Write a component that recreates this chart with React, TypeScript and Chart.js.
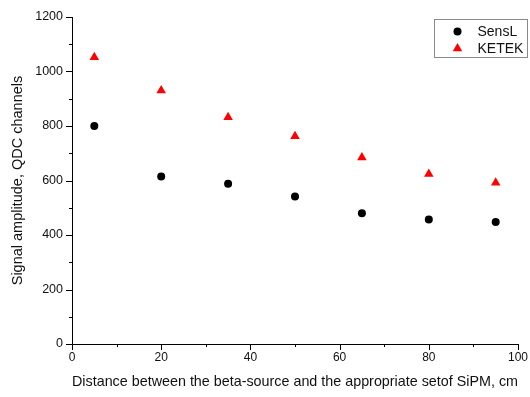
import React, { useEffect, useRef } from 'react';
import { Chart, registerables } from 'chart.js';

Chart.register(...registerables);

const distances = [5, 20, 35, 50, 65, 80, 95];
const sensL = [800, 615, 588, 541, 480, 457, 448];
const ketek = [1052, 930, 832, 762, 684, 624, 592];
const seriesNames = ['SensL', 'KETEK'];
const seriesColors = ['#000000', '#ff0000'];
const seriesStyles = ['circle', 'triangle'];
const xTickValues = [0, 20, 40, 60, 80, 100];
const yTickValues = [0, 200, 400, 600, 800, 1000, 1200];
const xMinorStep = 10;
const yMinorStep = 100;
const xTitle = 'Distance between the beta-source and the appropriate setof SiPM, cm';
const yTitle = 'Signal amplitude, QDC channels';

const FONT = "'Liberation Sans', Arial, sans-serif";

const tickMarks = {
  id: 'tickMarks',
  afterDraw(chart: any) {
    const ctx = chart.ctx;
    const xs = chart.scales.x;
    const ys = chart.scales.y;
    const area = chart.chartArea;
    ctx.save();
    ctx.strokeStyle = '#000';
    ctx.lineWidth = 1;
    ctx.beginPath();
    for (let v = xs.min; v <= xs.max + 1e-9; v += xMinorStep) {
      const px = Math.round(xs.getPixelForValue(v)) + 0.5;
      const len = xTickValues.includes(v) ? 6 : 3;
      ctx.moveTo(px, area.bottom);
      ctx.lineTo(px, area.bottom + len);
    }
    for (let v = ys.min; v <= ys.max + 1e-9; v += yMinorStep) {
      const py = Math.round(ys.getPixelForValue(v)) + 0.5;
      const len = yTickValues.includes(v) ? 6 : 3;
      ctx.moveTo(area.left, py);
      ctx.lineTo(area.left - len, py);
    }
    ctx.stroke();
    ctx.restore();
  },
};

function drawSymbol(ctx: CanvasRenderingContext2D, style: string, x: number, y: number, color: string) {
  ctx.fillStyle = color;
  ctx.beginPath();
  if (style === 'circle') {
    ctx.arc(x, y, 4, 0, Math.PI * 2);
  } else {
    const r = 5.5;
    let rad = 0;
    ctx.moveTo(x + Math.sin(rad) * r, y - Math.cos(rad) * r);
    rad += (2 * Math.PI) / 3;
    ctx.lineTo(x + Math.sin(rad) * r, y - Math.cos(rad) * r);
    rad += (2 * Math.PI) / 3;
    ctx.lineTo(x + Math.sin(rad) * r, y - Math.cos(rad) * r);
    ctx.closePath();
  }
  ctx.fill();
}

const legendBox = {
  id: 'legendBox',
  afterDraw(chart: any) {
    const ctx = chart.ctx as CanvasRenderingContext2D;
    const area = chart.chartArea;
    const left = Math.round(area.right - 84) + 0.5;
    const top = Math.round(area.top + 2) + 0.5;
    const w = 93;
    const h = 38;
    ctx.save();
    ctx.fillStyle = '#fff';
    ctx.fillRect(left, top, w, h);
    ctx.strokeStyle = '#8a8a8a';
    ctx.lineWidth = 1;
    ctx.strokeRect(left, top, w, h);
    ctx.font = `14px ${FONT}`;
    ctx.textBaseline = 'middle';
    ctx.textAlign = 'left';
    chart.data.datasets.forEach((ds: any, i: number) => {
      const cy = top + 12 + i * 17;
      drawSymbol(ctx, seriesStyles[i], left + 23, cy, seriesColors[i]);
      ctx.fillStyle = '#111';
      ctx.fillText(ds.label, left + 43, cy + 1);
    });
    ctx.restore();
  },
};

export default function App() {
  const ref = useRef<HTMLCanvasElement | null>(null);

  useEffect(() => {
    if (!ref.current) return;
    Chart.defaults.font.family = FONT;
    const seriesData = [sensL, ketek];
    const chart = new Chart(ref.current, {
      type: 'scatter',
      data: {
        datasets: seriesData.map((vals, i) => ({
          label: seriesNames[i],
          data: distances.map((d, j) => ({ x: d, y: vals[j] })),
          pointStyle: seriesStyles[i] as any,
          pointRadius: i === 0 ? 4 : 5.5,
          pointHoverRadius: i === 0 ? 4 : 5.5,
          backgroundColor: seriesColors[i],
          borderColor: seriesColors[i],
          borderWidth: 0,
          showLine: false,
        })),
      },
      options: {
        responsive: false,
        animation: false,
        layout: { padding: { left: 0, right: 12, top: 17, bottom: 0 } },
        plugins: {
          legend: { display: false },
          tooltip: { enabled: false },
        },
        scales: {
          x: {
            type: 'linear',
            min: 0,
            max: 100,
            afterBuildTicks: (scale: any) => {
              scale.ticks = xTickValues.map((v) => ({ value: v }));
            },
            afterFit: (scale: any) => {
              scale.height = 53;
              scale.paddingRight = 0;
              scale.paddingLeft = 0;
            },
            grid: { display: false, drawTicks: false },
            border: { display: true, color: '#000', width: 1 },
            ticks: {
              padding: 6,
              color: '#111',
              font: { size: 12, family: FONT },
              maxRotation: 0,
              autoSkip: false,
              callback: (v: any) => String(v),
            },
            title: {
              display: true,
              text: xTitle,
              color: '#111',
              font: { size: 14.5, family: FONT },
              padding: { top: 0, bottom: 6 },
            },
          },
          y: {
            type: 'linear',
            min: 0,
            max: 1200,
            afterBuildTicks: (scale: any) => {
              scale.ticks = yTickValues.map((v) => ({ value: v }));
            },
            afterFit: (scale: any) => {
              scale.width = 72;
              scale.paddingTop = 0;
              scale.paddingBottom = 0;
            },
            grid: { display: false, drawTicks: false },
            border: { display: true, color: '#000', width: 1 },
            ticks: {
              padding: 9,
              color: '#111',
              font: { size: 12.5, family: FONT },
              autoSkip: false,
              callback: (v: any) => String(v),
            },
            title: {
              display: true,
              text: yTitle,
              color: '#111',
              font: { size: 14.5, family: FONT },
              padding: { top: 9, bottom: 0 },
            },
          },
        },
      },
      plugins: [tickMarks, legendBox],
    });
    return () => chart.destroy();
  }, []);

  return (
    <div style={{ position: 'absolute', left: 0, top: 0, width: 530, height: 397, background: '#fff' }}>
      <canvas ref={ref} width={530} height={397} style={{ display: 'block' }} />
    </div>
  );
}
